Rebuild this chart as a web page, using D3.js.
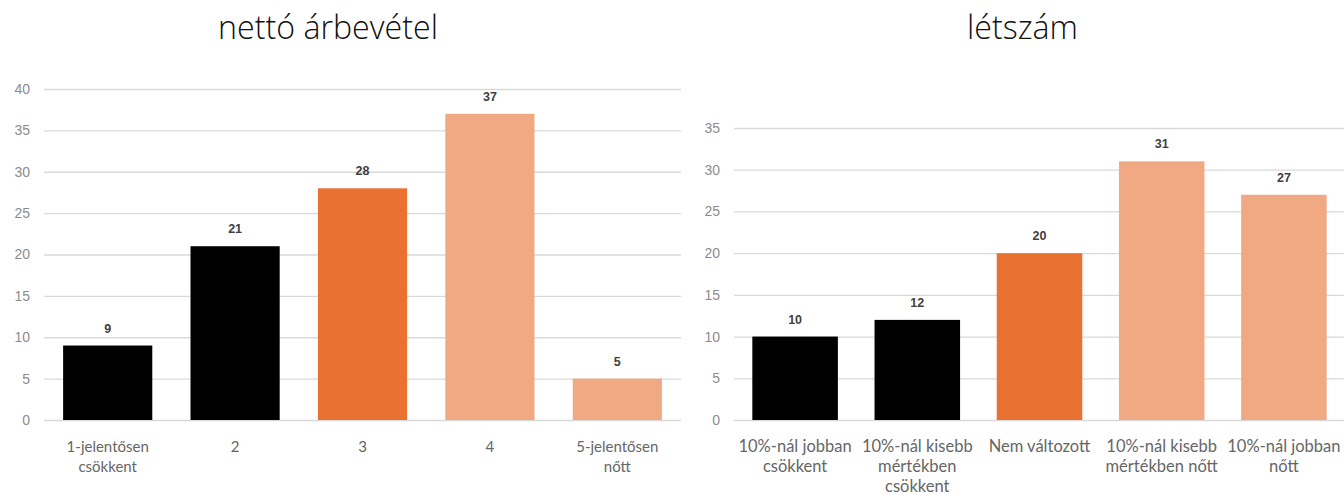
<!DOCTYPE html>
<html><head><meta charset="utf-8">
<script src="https://cdn.jsdelivr.net/npm/d3@7"></script>
<style>
body{margin:0;background:#fff;}
svg{display:block;}
</style></head>
<body>
<svg id="c" width="1344" height="495"></svg>
<script>
const leftTitle = "nettó árbevétel";
const leftCategories = ["1-jelentősen\ncsökkent", "2", "3", "4", "5-jelentősen\nnőtt"];
const leftValues = [9, 21, 28, 37, 5];
const leftTicks = [0, 5, 10, 15, 20, 25, 30, 35, 40];

const rightTitle = "létszám";
const rightCategories = ["10%-nál jobban\ncsökkent", "10%-nál kisebb\nmértékben\ncsökkent", "Nem változott", "10%-nál kisebb\nmértékben nőtt", "10%-nál jobban\nnőtt"];
const rightValues = [10, 12, 20, 31, 27];
const rightTicks = [0, 5, 10, 15, 20, 25, 30, 35];

const barColors = ["#000000", "#000000", "#E97132", "#F1A983", "#F1A983"];

const svg = d3.select("#c");

function drawChart(o) {
  const g = svg.append("g");
  const x = d3.scaleBand().domain(o.cats.map((d,i)=>i)).range([o.x0, o.x1]).paddingInner(0.3).paddingOuter(0.15);
  const y = d3.scaleLinear().domain([0, o.ymax]).range([o.y0, o.y1]);

  const tt = g.append("text").attr("x", o.titleX).attr("y", 39).attr("text-anchor","middle")
    .attr("font-family","'Open Sans', sans-serif").attr("font-weight", 300).attr("font-size", 25).attr("fill","#111")
    .text(o.title);
  const w = tt.node().getComputedTextLength();
  tt.attr("font-size", 25 * o.titleW / w);

  const ax = g.append("g").attr("transform", `translate(${o.x0},0)`)
    .call(d3.axisLeft(y).tickValues(o.ticks).tickSize(-(o.x1 - o.x0)).tickPadding(14));
  ax.select(".domain").remove();
  ax.selectAll(".tick line").attr("stroke","#d9d9d9").attr("stroke-width",1.3);
  ax.selectAll(".tick text").attr("font-family","Arial, 'Liberation Sans', sans-serif").attr("font-size",14).attr("fill","#8c8c8c");

  g.selectAll("rect.bar").data(o.vals).enter().append("rect")
    .attr("x",(d,i)=>x(i)).attr("width",x.bandwidth())
    .attr("y",d=>y(d)).attr("height",d=>y(0)-y(d))
    .attr("fill",(d,i)=>barColors[i]);

  g.selectAll("text.val").data(o.vals).enter().append("text")
    .attr("x",(d,i)=>x(i)+x.bandwidth()/2).attr("y",d=>y(d)-13)
    .attr("text-anchor","middle").attr("font-family","Arial, 'Liberation Sans', sans-serif")
    .attr("font-weight","bold").attr("font-size",12.5).attr("fill","#404040")
    .text(d=>d);

  o.cats.forEach((c,i)=>{
    const t = g.append("text").attr("text-anchor","middle")
      .attr("font-family","Lato, sans-serif").attr("font-size",o.catSize).attr("fill","#666");
    c.split("\n").forEach((line,j)=>{
      t.append("tspan").attr("x", x(i)+x.bandwidth()/2).attr("y", 452 + j*20).text(line);
    });
  });
}

drawChart({title:leftTitle, titleX:328, titleW:220, catSize:15, cats:leftCategories, vals:leftValues, ticks:leftTicks, ymax:40, x0:44, x1:681, y0:420, y1:89});
drawChart({title:rightTitle, titleX:1022.5, titleW:111, catSize:16.5, cats:rightCategories, vals:rightValues, ticks:rightTicks, ymax:35, x0:734, x1:1345, y0:420, y1:128});
</script>
</body></html>
